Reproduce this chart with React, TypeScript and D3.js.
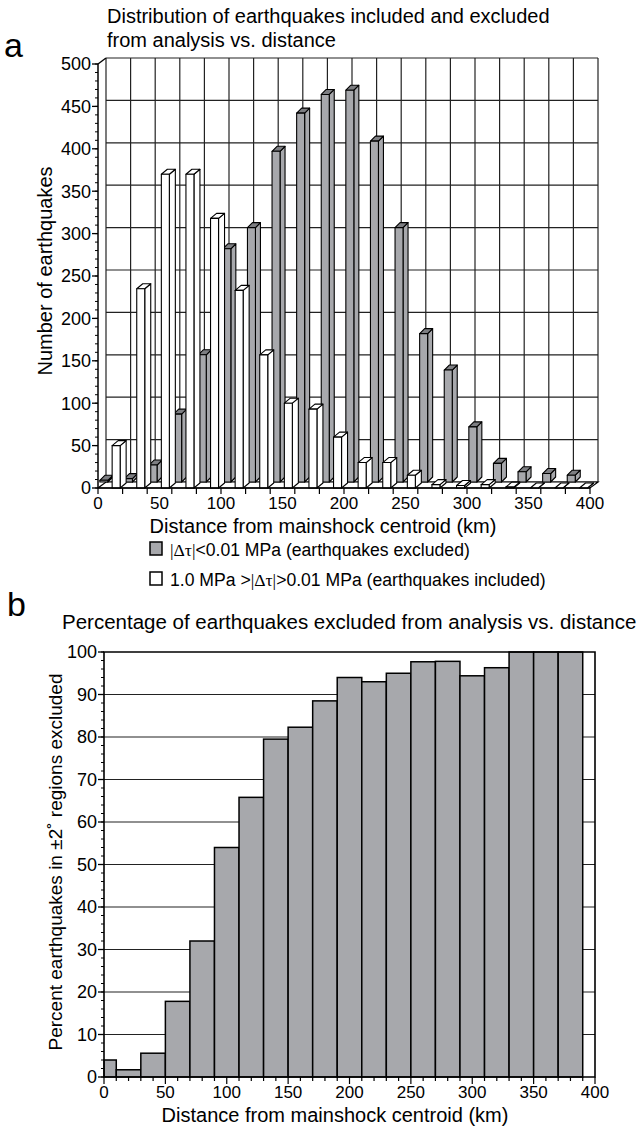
import React, { useEffect, useRef } from "react";
import * as d3 from "d3";

// chart a: counts per 20 km bin (bins centred on 0, 20, ... 380)
const binCentres = d3.range(0, 400, 20);
const excludedCounts = [2, 4, 20, 80, 150, 275, 300, 390, 435, 457, 462, 402, 300, 175, 132, 65, 22, 12, 10, 8];
const includedCounts = [50, 235, 370, 370, 318, 233, 157, 100, 93, 60, 30, 30, 15, 4, 3, 4, 1, 0, 0, 0];
const countTicks = d3.range(0, 501, 50);
const distanceTicks = d3.range(0, 401, 50);

// chart b: percent excluded per bin
const pctBinEdges = [0, 10, 30, 50, 70, 90, 110, 130, 150, 170, 190, 210, 230, 250, 270, 290, 310, 330, 350, 370, 390];
const pctExcluded = [4, 1.7, 5.6, 17.8, 32, 54, 65.8, 79.5, 82.3, 88.5, 94, 93, 95, 97.7, 97.8, 94.4, 96.3, 100, 100, 100];
const pctTicks = d3.range(0, 101, 10);

const FONT = "'Liberation Sans', Arial, Helvetica, sans-serif";
const GRAY = "#a7a8ac";
const GRAY_TOP = "#7d7e82";

function ChartA({ svg }: { svg: any }) {
  const g = svg.append("g");
  const x = d3.scaleLinear().domain([0, 400]).range([98, 590]);
  const y = d3.scaleLinear().domain([0, 500]).range([488, 64]);
  const dx = 8, dy = -6;

  // back wall
  g.append("rect")
    .attr("x", x(0) + dx).attr("y", y(500) + dy)
    .attr("width", x(400) - x(0)).attr("height", y(0) - y(500))
    .attr("fill", "#fff");
  g.selectAll(".vgrid").data(d3.range(0, 401, 20)).join("line")
    .attr("x1", d => x(d) + dx).attr("x2", d => x(d) + dx)
    .attr("y1", y(500) + dy).attr("y2", y(0) + dy)
    .attr("stroke", "#222").attr("stroke-width", 1.2);
  g.selectAll(".hgrid").data(countTicks).join("line")
    .attr("x1", x(0) + dx).attr("x2", x(400) + dx)
    .attr("y1", d => y(d) + dy).attr("y2", d => y(d) + dy)
    .attr("stroke", "#222").attr("stroke-width", 1.2);
  g.append("line")
    .attr("x1", x(0)).attr("y1", y(500)).attr("x2", x(0) + dx).attr("y2", y(500) + dy)
    .attr("stroke", "#000").attr("stroke-width", 1.3);

  // floor
  g.append("polygon")
    .attr("points", [[x(0), y(0)], [x(400), y(0)], [x(400) + dx, y(0) + dy], [x(0) + dx, y(0) + dy]].join(" "))
    .attr("fill", "#fff").attr("stroke", "#000").attr("stroke-width", 1.2);

  const box = (x0: number, x1: number, yb: number, yt: number, ddx: number, ddy: number, front: string, top: string) => {
    const b = g.append("g").attr("stroke", "#000").attr("stroke-width", 1.1).attr("stroke-linejoin", "round");
    b.append("polygon").attr("points", [[x1, yb], [x1 + ddx, yb + ddy], [x1 + ddx, yt + ddy], [x1, yt]].join(" ")).attr("fill", front);
    b.append("polygon").attr("points", [[x0, yt], [x1, yt], [x1 + ddx, yt + ddy], [x0 + ddx, yt + ddy]].join(" ")).attr("fill", top);
    b.append("rect").attr("x", x0).attr("y", yt).attr("width", x1 - x0).attr("height", yb - yt).attr("fill", front);
  };

  // back row: excluded (gray)
  binCentres.forEach((c, i) => {
    box(x(c + 1.5), x(c + 8), y(0) - 6, y(excludedCounts[i]) - 6, 5, -5, GRAY, GRAY_TOP);
  });
  // front row: included (white)
  binCentres.forEach((c, i) => {
    box(x(c + 11.5), x(c + 18), y(0), y(includedCounts[i]), 6, -5, "#fff", "#fff");
  });

  // y axis
  g.append("line").attr("x1", x(0)).attr("x2", x(0)).attr("y1", y(0)).attr("y2", y(500))
    .attr("stroke", "#000").attr("stroke-width", 1.5);
  g.selectAll(".yminor").data(d3.range(0, 501, 10)).join("line")
    .attr("x1", x(0) - 3).attr("x2", x(0)).attr("y1", d => y(d)).attr("y2", d => y(d))
    .attr("stroke", "#000").attr("stroke-width", 1);
  g.selectAll(".ymajor").data(countTicks).join("line")
    .attr("x1", x(0) - 6).attr("x2", x(0)).attr("y1", d => y(d)).attr("y2", d => y(d))
    .attr("stroke", "#000").attr("stroke-width", 1.3);
  g.selectAll(".ylab").data(countTicks).join("text")
    .attr("x", x(0) - 7).attr("y", d => y(d)).attr("dy", "0.35em")
    .attr("text-anchor", "end").attr("font-size", 18).attr("font-family", FONT)
    .text(d => d);

  // x axis
  g.append("line").attr("x1", x(0)).attr("x2", x(400)).attr("y1", y(0)).attr("y2", y(0))
    .attr("stroke", "#000").attr("stroke-width", 1.5);
  g.selectAll(".xtick").data(d3.range(0, 401, 20)).join("line")
    .attr("x1", d => x(d)).attr("x2", d => x(d)).attr("y1", y(0)).attr("y2", y(0) + 6)
    .attr("stroke", "#000").attr("stroke-width", 1.2);
  g.selectAll(".xlab").data(distanceTicks).join("text")
    .attr("x", d => x(d)).attr("y", 509)
    .attr("text-anchor", "middle").attr("font-size", 17).attr("font-family", FONT)
    .text(d => d);

  // labels
  g.append("text").attr("x", 323).attr("y", 533).attr("text-anchor", "middle")
    .attr("font-size", 20).attr("font-family", FONT).text("Distance from mainshock centroid (km)");
  g.append("text").attr("transform", "translate(52,271) rotate(-90)").attr("text-anchor", "middle")
    .attr("font-size", 20).attr("font-family", FONT).text("Number of earthquakes");
  g.append("text").attr("x", 107).attr("y", 23).attr("font-size", 20).attr("font-family", FONT)
    .text("Distribution of earthquakes included and excluded");
  g.append("text").attr("x", 107).attr("y", 47).attr("font-size", 20).attr("font-family", FONT)
    .text("from analysis vs. distance");
  g.append("text").attr("x", 4).attr("y", 57).attr("font-size", 34).attr("font-family", FONT).text("a");

  // legend
  const legend = [
    { fill: GRAY, pre: "", post: "<0.01 MPa (earthquakes excluded)" },
    { fill: "#fff", pre: "1.0 MPa >", post: ">0.01 MPa (earthquakes included)" },
  ];
  legend.forEach((l, i) => {
    const ly = 542 + i * 30;
    g.append("rect").attr("x", 150).attr("y", ly).attr("width", 12).attr("height", 13)
      .attr("fill", l.fill).attr("stroke", "#000").attr("stroke-width", 1.5);
    const t = g.append("text").attr("x", 170).attr("y", ly + 13.5).attr("font-size", 17.6).attr("font-family", FONT);
    if (l.pre) t.append("tspan").text(l.pre);
    t.append("tspan").attr("font-family", "'Liberation Serif', 'DejaVu Serif', serif").text("|Δτ|");
    t.append("tspan").text(l.post);
  });
}

function ChartB({ svg }: { svg: any }) {
  const g = svg.append("g");
  const x = d3.scaleLinear().domain([0, 400]).range([104, 595]);
  const y = d3.scaleLinear().domain([0, 100]).range([1077, 652]);

  g.selectAll(".grid").data(pctTicks.slice(1, -1)).join("line")
    .attr("x1", x(0)).attr("x2", x(400)).attr("y1", d => y(d)).attr("y2", d => y(d))
    .attr("stroke", "#222").attr("stroke-width", 1.2);

  g.selectAll(".bar").data(pctExcluded).join("rect")
    .attr("x", (d, i) => x(pctBinEdges[i]))
    .attr("width", (d, i) => x(pctBinEdges[i + 1]) - x(pctBinEdges[i]))
    .attr("y", d => y(d)).attr("height", d => y(0) - y(d))
    .attr("fill", GRAY).attr("stroke", "#000").attr("stroke-width", 1.5);

  // frame
  g.append("path")
    .attr("d", `M${x(0)},${y(0)}V${y(100)}H${x(400)}V${y(0)}Z`)
    .attr("fill", "none").attr("stroke", "#000").attr("stroke-width", 1.6);

  g.selectAll(".yminor").data(d3.range(0, 101, 2)).join("line")
    .attr("x1", x(0) - 3).attr("x2", x(0)).attr("y1", d => y(d)).attr("y2", d => y(d))
    .attr("stroke", "#000").attr("stroke-width", 1);
  g.selectAll(".ymajor").data(pctTicks).join("line")
    .attr("x1", x(0) - 6).attr("x2", x(0)).attr("y1", d => y(d)).attr("y2", d => y(d))
    .attr("stroke", "#000").attr("stroke-width", 1.3);
  g.selectAll(".ylab").data(pctTicks).join("text")
    .attr("x", x(0) - 7).attr("y", d => y(d)).attr("dy", "0.35em")
    .attr("text-anchor", "end").attr("font-size", 18).attr("font-family", FONT)
    .text(d => d);

  g.selectAll(".xminor").data(d3.range(0, 401, 10)).join("line")
    .attr("x1", d => x(d)).attr("x2", d => x(d)).attr("y1", y(0)).attr("y2", d => y(0) + (d % 50 === 0 ? 7 : 4))
    .attr("stroke", "#000").attr("stroke-width", 1.2);
  g.selectAll(".xlab").data(distanceTicks).join("text")
    .attr("x", d => x(d)).attr("y", 1098)
    .attr("text-anchor", "middle").attr("font-size", 17).attr("font-family", FONT)
    .text(d => d);

  g.append("text").attr("x", 335).attr("y", 1122).attr("text-anchor", "middle")
    .attr("font-size", 20).attr("font-family", FONT).text("Distance from mainshock centroid (km)");
  g.append("text").attr("transform", "translate(62,862) rotate(-90)").attr("text-anchor", "middle")
    .attr("font-size", 19).attr("font-family", FONT).text("Percent earthquakes in ±2˚ regions excluded");
  g.append("text").attr("x", 62).attr("y", 629).attr("font-size", 20.5).attr("font-family", FONT)
    .text("Percentage of earthquakes excluded from analysis vs. distance");
  g.append("text").attr("x", 7).attr("y", 616).attr("font-size", 34).attr("font-family", FONT).text("b");
}

export default function App() {
  const ref = useRef<SVGSVGElement>(null);
  useEffect(() => {
    const svg = d3.select(ref.current);
    svg.selectAll("*").remove();
    ChartA({ svg });
    ChartB({ svg });
  }, []);
  return (
    <svg ref={ref} width={638} height={1127}
      style={{ position: "absolute", left: 0, top: 0, background: "#fff" }} />
  );
}
